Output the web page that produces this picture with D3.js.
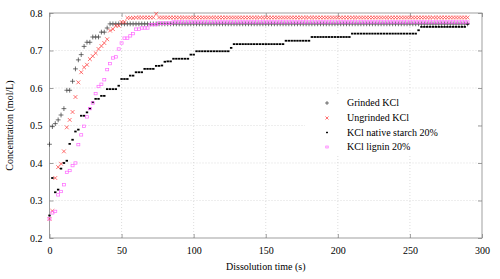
<!DOCTYPE html>
<html>
<head>
<meta charset="utf-8">
<script src="https://cdn.jsdelivr.net/npm/d3@7"></script>
<style>
  body { margin: 0; background: #fff; }
  text { font-family: "Liberation Serif", "DejaVu Serif", serif; font-size: 10px; fill: #000; }
</style>
</head>
<body>
<div id="chart"></div>
<script>
// sampling times (s)
const times = [
  0,2,4,6,8,10,12,14,16,18,
  20,22,24,26,28,30,32,34,36,38,
  40,42,44,46,48,50,52,54,56,58,
  60,62,64,66,68,70,72,74,76,78,
  80,82,84,86,88,90,92,94,96,98,
  100,102,104,106,108,110,112,114,116,118,
  120,122,124,126,128,130,132,134,136,138,
  140,142,144,146,148,150,152,154,156,158,
  160,162,164,166,168,170,172,174,176,178,
  180,182,184,186,188,190,192,194,196,198,
  200,202,204,206,208,210,212,214,216,218,
  220,222,224,226,228,230,232,234,236,238,
  240,242,244,246,248,250,252,254,256,258,
  260,262,264,266,268,270,272,274,276,278,
  280,282,284,286,288,290
];

const grinded = [
  0.450,0.497,0.505,0.515,0.528,0.545,0.594,0.594,0.618,0.651,
  0.675,0.689,0.711,0.722,0.722,0.736,0.736,0.736,0.749,0.749,
  0.760,0.771,0.771,0.771,0.771,0.771,0.771,0.771,0.771,0.771,
  0.771,0.771,0.771,0.771,0.771,0.771,0.771,0.771,0.771,0.771,
  0.771,0.771,0.771,0.771,0.771,0.771,0.771,0.771,0.771,0.771,
  0.771,0.771,0.771,0.771,0.771,0.771,0.771,0.771,0.771,0.771,
  0.771,0.771,0.771,0.771,0.771,0.771,0.771,0.771,0.771,0.771,
  0.771,0.771,0.771,0.771,0.771,0.771,0.771,0.771,0.771,0.771,
  0.771,0.771,0.771,0.771,0.771,0.771,0.771,0.771,0.771,0.771,
  0.771,0.771,0.771,0.771,0.771,0.771,0.771,0.771,0.771,0.771,
  0.771,0.771,0.771,0.771,0.771,0.771,0.771,0.771,0.771,0.771,
  0.771,0.771,0.771,0.771,0.771,0.771,0.771,0.771,0.771,0.771,
  0.771,0.771,0.771,0.771,0.771,0.771,0.771,0.771,0.771,0.771,
  0.771,0.771,0.771,0.771,0.771,0.771,0.771,0.771,0.771,0.771,
  0.771,0.771,0.771,0.771,0.771,0.771
];

const ungrinded = [
  0.251,0.272,0.360,0.389,0.398,0.431,0.495,0.515,0.536,0.576,
  0.615,0.642,0.655,0.662,0.677,0.685,0.693,0.704,0.712,0.720,
  0.730,0.753,0.757,0.766,0.766,0.776,0.776,0.787,0.787,0.787,
  0.788,0.788,0.788,0.788,0.788,0.788,0.788,0.798,0.788,0.788,
  0.788,0.788,0.788,0.788,0.788,0.788,0.788,0.788,0.788,0.788,
  0.788,0.788,0.788,0.788,0.788,0.788,0.788,0.788,0.788,0.788,
  0.788,0.788,0.788,0.788,0.788,0.788,0.788,0.788,0.788,0.788,
  0.788,0.788,0.788,0.788,0.788,0.788,0.788,0.788,0.788,0.788,
  0.788,0.788,0.788,0.788,0.788,0.788,0.788,0.788,0.788,0.788,
  0.788,0.788,0.788,0.788,0.788,0.788,0.788,0.788,0.788,0.788,
  0.788,0.788,0.788,0.788,0.788,0.788,0.788,0.788,0.788,0.788,
  0.788,0.788,0.788,0.788,0.788,0.788,0.788,0.788,0.788,0.788,
  0.788,0.788,0.788,0.788,0.788,0.788,0.788,0.788,0.788,0.788,
  0.788,0.788,0.788,0.788,0.788,0.788,0.788,0.788,0.788,0.788,
  0.788,0.788,0.788,0.788,0.788,0.788
];

const starch = [
  0.260,0.360,0.322,0.329,0.385,0.400,0.406,0.451,0.462,0.484,
  0.489,0.526,0.526,0.535,0.545,0.562,0.571,0.571,0.579,0.579,
  0.597,0.597,0.597,0.597,0.606,0.624,0.624,0.624,0.633,0.633,
  0.642,0.642,0.642,0.651,0.651,0.651,0.651,0.659,0.659,0.660,
  0.670,0.671,0.671,0.678,0.678,0.678,0.678,0.678,0.678,0.689,
  0.689,0.698,0.698,0.698,0.698,0.698,0.698,0.698,0.698,0.698,
  0.698,0.698,0.698,0.707,0.717,0.717,0.717,0.717,0.717,0.717,
  0.717,0.717,0.717,0.717,0.717,0.717,0.717,0.717,0.717,0.717,
  0.717,0.717,0.726,0.726,0.726,0.726,0.726,0.726,0.726,0.726,
  0.726,0.736,0.736,0.736,0.736,0.736,0.736,0.736,0.736,0.736,
  0.736,0.736,0.736,0.736,0.736,0.745,0.745,0.745,0.745,0.745,
  0.745,0.745,0.745,0.745,0.745,0.745,0.745,0.745,0.745,0.745,
  0.745,0.745,0.745,0.745,0.745,0.745,0.745,0.745,0.754,0.763,
  0.763,0.763,0.763,0.763,0.763,0.763,0.763,0.763,0.763,0.763,
  0.763,0.763,0.763,0.763,0.763,0.771
];

const lignin = [
  0.251,0.267,0.271,0.315,0.324,0.342,0.375,0.380,0.393,0.400,
  0.449,0.475,0.498,0.523,0.545,0.560,0.585,0.604,0.610,0.622,
  0.649,0.665,0.680,0.683,0.704,0.720,0.733,0.733,0.739,0.745,
  0.757,0.757,0.760,0.760,0.760,0.769,0.769,0.769,0.773,0.773,
  0.773,0.773,0.773,0.776,0.776,0.776,0.776,0.776,0.776,0.776,
  0.776,0.776,0.776,0.776,0.776,0.776,0.776,0.776,0.776,0.776,
  0.776,0.776,0.776,0.776,0.776,0.776,0.776,0.776,0.776,0.776,
  0.776,0.776,0.776,0.776,0.776,0.776,0.776,0.776,0.776,0.776,
  0.776,0.776,0.776,0.776,0.776,0.776,0.776,0.776,0.776,0.776,
  0.776,0.776,0.776,0.776,0.776,0.776,0.776,0.776,0.776,0.776,
  0.776,0.776,0.776,0.776,0.776,0.776,0.776,0.776,0.776,0.776,
  0.776,0.776,0.776,0.776,0.776,0.776,0.776,0.776,0.776,0.776,
  0.776,0.776,0.776,0.776,0.776,0.776,0.776,0.776,0.776,0.776,
  0.776,0.776,0.776,0.776,0.776,0.776,0.776,0.776,0.776,0.776,
  0.776,0.776,0.776,0.776,0.776,0.776
];

const seriesNames = ["Grinded KCl", "Ungrinded KCl", "KCl native starch 20%", "KCl lignin 20%"];
const xTicks = [0, 50, 100, 150, 200, 250, 300];
const yTicks = [0.2, 0.3, 0.4, 0.5, 0.6, 0.7, 0.8];

const margin = {top: 13, right: 18, bottom: 41, left: 49.5},
    W = 500, H = 279,
    width = W - margin.left - margin.right,
    height = H - margin.top - margin.bottom;

const svg = d3.select("#chart").append("svg")
    .attr("width", W)
    .attr("height", H);

const x = d3.scaleLinear().domain([0, 300]).range([margin.left, margin.left + width]);
const y = d3.scaleLinear().domain([0.2, 0.8]).range([margin.top + height, margin.top]);

// grid
const grid = svg.append("g").attr("stroke", "#c8c8c8").attr("stroke-width", 0.6)
    .attr("stroke-dasharray", "1,2");
grid.selectAll(".gx").data(xTicks.slice(1, -1)).join("line")
    .attr("x1", d => x(d)).attr("x2", d => x(d))
    .attr("y1", y(0.2)).attr("y2", y(0.8));
grid.selectAll(".gy").data(yTicks.slice(1, -1)).join("line")
    .attr("x1", x(0)).attr("x2", x(300))
    .attr("y1", d => y(d)).attr("y2", d => y(d));

// axes, ticks mirrored inward
const fmtY = d3.format(".1f");
svg.append("g")
    .attr("transform", `translate(0,${y(0.2)})`)
    .call(d3.axisBottom(x).tickValues(xTicks).tickSizeInner(-4).tickSizeOuter(0).tickPadding(9))
    .call(g => g.select(".domain").remove());
svg.append("g")
    .attr("transform", `translate(0,${y(0.8)})`)
    .call(d3.axisTop(x).tickValues(xTicks).tickSizeInner(-4).tickSizeOuter(0).tickFormat(""))
    .call(g => g.select(".domain").remove());
svg.append("g")
    .attr("transform", `translate(${x(0)},0)`)
    .call(d3.axisLeft(y).tickValues(yTicks).tickFormat(fmtY).tickSizeInner(-4).tickSizeOuter(0).tickPadding(7))
    .call(g => g.select(".domain").remove());
svg.append("g")
    .attr("transform", `translate(${x(300)},0)`)
    .call(d3.axisRight(y).tickValues(yTicks).tickSizeInner(-4).tickSizeOuter(0).tickFormat(""))
    .call(g => g.select(".domain").remove());
svg.selectAll(".tick line").attr("stroke", "#777").attr("stroke-width", 0.7);
svg.selectAll(".tick text").style("font-family", "Liberation Serif, serif").style("font-size", "10px");

svg.append("rect")
    .attr("x", x(0)).attr("y", y(0.8))
    .attr("width", x(300) - x(0)).attr("height", y(0.2) - y(0.8))
    .attr("fill", "none").attr("stroke", "#888").attr("stroke-width", 0.8);

// legend background hides the grid
svg.append("rect")
    .attr("x", 305).attr("y", 96).attr("width", 172).attr("height", 59)
    .attr("fill", "#fff");

// markers
const plus = s => `M${-s},0H${s}M0,${-s}V${s}`;
const cross = s => `M${-s},${-s}L${s},${s}M${-s},${s}L${s},${-s}`;

const markers = [
  {name: seriesNames[0], values: grinded, draw: (g, k) => g.append("path").attr("d", plus(2.4 * k)).attr("stroke", "#333").attr("stroke-width", 0.7).attr("fill", "none")},
  {name: seriesNames[1], values: ungrinded, draw: (g, k) => g.append("path").attr("d", cross(1.9 * k)).attr("stroke", "#f33").attr("stroke-width", 0.7).attr("fill", "none")},
  {name: seriesNames[2], values: starch, draw: (g, k) => g.append("rect").attr("x", -1.2 * k).attr("y", -0.9 * k).attr("width", 2.4 * k).attr("height", 1.8 * k).attr("fill", "#000")},
  {name: seriesNames[3], values: lignin, draw: (g, k) => g.append("rect").attr("x", -1.5 * k).attr("y", -1.2 * k).attr("width", 3 * k).attr("height", 2.4 * k).attr("fill", "none").attr("stroke", "#f6f").attr("stroke-width", 0.7)}
];

markers.forEach(m => {
  const pts = svg.append("g").selectAll("g")
      .data(times.map((t, i) => [t, m.values[i]]))
      .join("g")
      .attr("transform", d => `translate(${x(d[0])},${y(d[1])})`);
  pts.each(function() { m.draw(d3.select(this), 1); });
});

// legend
const legendY = [103, 118, 132.5, 147];
markers.forEach((m, i) => {
  const g = svg.append("g").attr("transform", `translate(327,${legendY[i]})`);
  m.draw(g, 0.8);
  svg.append("text")
      .attr("x", 347).attr("y", legendY[i]).attr("dy", "0.33em")
      .text(m.name);
});

// axis titles
svg.append("text")
    .attr("x", x(150)).attr("y", 269.5)
    .attr("text-anchor", "middle")
    .text("Dissolution time (s)");
svg.append("text")
    .attr("transform", `translate(13,${(y(0.2) + y(0.8)) / 2}) rotate(-90)`)
    .attr("text-anchor", "middle")
    .text("Concentration (mol/L)");
</script>
</body>
</html>
